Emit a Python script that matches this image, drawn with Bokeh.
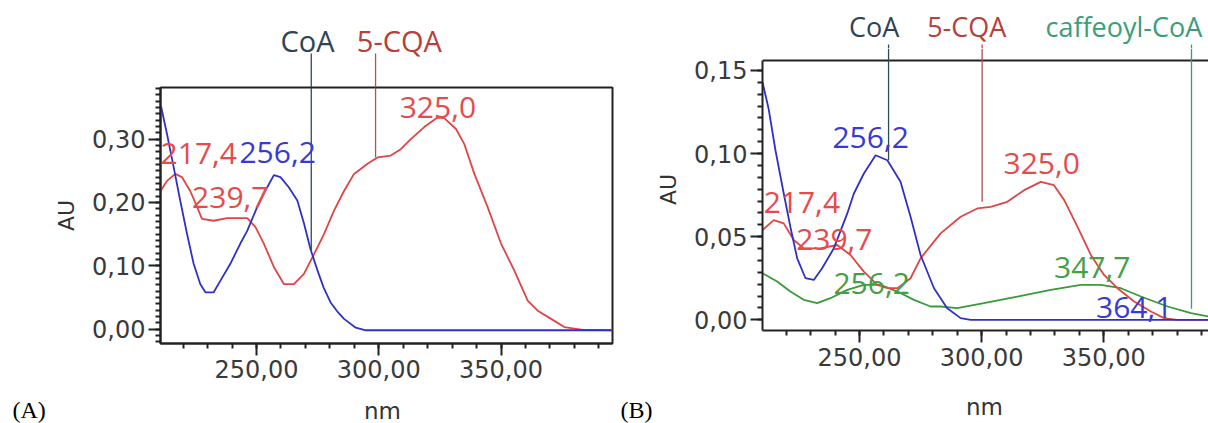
from bokeh.plotting import figure
from bokeh.models import (SingleIntervalTicker, CustomJSTickFormatter, ColumnDataSource, Range1d)
from bokeh.layouts import row, column
from bokeh.embed import file_html
from bokeh.resources import INLINE
from bokeh.core.properties import value

# ---------------- data ----------------
a_coa_nm = [211.0, 213.4, 216.1, 218.8, 221.6, 224.3, 227.0, 229.1, 232.5, 235.2, 239.3, 243.4,
            246.2, 250.3, 254.4, 257.1, 259.8, 263.2, 266.7, 269.4, 272.1, 274.9, 277.5, 280.3,
            283.0, 285.8, 290.6, 294.7, 395.6]
a_coa_au = [0.351, 0.308, 0.256, 0.203, 0.150, 0.103, 0.071, 0.058, 0.058, 0.076, 0.103, 0.135,
            0.155, 0.193, 0.224, 0.243, 0.240, 0.224, 0.203, 0.167, 0.126, 0.093, 0.065, 0.042,
            0.028, 0.016, 0.002, -0.002, -0.002]
a_cqa_nm = [210.8, 213.4, 216.8, 219.5, 222.9, 225.7, 227.7, 232.5, 238.0, 246.2, 249.6, 253.0,
            257.1, 261.2, 265.3, 269.4, 273.5, 277.6, 281.7, 285.8, 289.9, 295.4, 299.5, 304.9,
            309.0, 313.1, 318.6, 324.0, 326.8, 331.6, 335.0, 339.1, 344.5, 350.0, 355.5, 360.9,
            365.0, 370.5, 375.9, 382.8, 395.6]
a_cqa_au = [0.218, 0.234, 0.245, 0.240, 0.218, 0.193, 0.174, 0.171, 0.175, 0.175, 0.161, 0.135,
            0.098, 0.071, 0.071, 0.087, 0.118, 0.150, 0.187, 0.218, 0.245, 0.261, 0.271, 0.274,
            0.284, 0.300, 0.319, 0.334, 0.333, 0.316, 0.292, 0.245, 0.193, 0.135, 0.092, 0.045,
            0.029, 0.016, 0.003, -0.001, -0.002]

a_peak_nm = [217.4, 239.7, 256.2, 325.0]
a_peak_au = [0.245, 0.175, 0.243, 0.334]
a_peak_series = ["5-CQA", "5-CQA", "CoA", "5-CQA"]

a_marker_names = ["CoA", "5-CQA"]
a_marker_nm = [272.4, 298.7]
a_marker_au = [0.124, 0.271]

b_coa_nm = [210.3, 212.8, 215.6, 219.0, 221.7, 224.5, 227.9, 231.3, 234.7, 239.5, 245.0, 247.7,
            251.8, 256.6, 261.4, 266.8, 270.9, 275.0, 280.5, 285.9, 291.4, 295.5, 393.0]
b_coa_au = [0.143, 0.127, 0.102, 0.076, 0.056, 0.037, 0.025, 0.024, 0.031, 0.043, 0.064, 0.076,
            0.088, 0.099, 0.096, 0.083, 0.062, 0.039, 0.019, 0.007, 0.001, 0.0, 0.0]
b_cqa_nm = [210.3, 214.9, 219.0, 223.1, 227.2, 234.0, 240.9, 246.3, 251.8, 257.3, 261.4, 265.5,
            270.9, 275.0, 283.2, 291.4, 298.2, 303.7, 310.5, 317.4, 324.2, 329.6, 333.8, 339.2,
            344.7, 350.1, 355.6, 362.4, 369.3, 374.7, 380.0, 393.0]
b_cqa_au = [0.054, 0.060, 0.058, 0.048, 0.043, 0.043, 0.045, 0.039, 0.029, 0.021, 0.019, 0.019,
            0.025, 0.037, 0.052, 0.062, 0.067, 0.068, 0.071, 0.078, 0.083, 0.081, 0.072, 0.056,
            0.039, 0.027, 0.019, 0.011, 0.005, 0.001, 0.0, 0.0]
b_caf_nm = [210.3, 216.3, 221.7, 227.2, 232.7, 238.1, 245.0, 251.8, 258.6, 265.5, 272.3, 279.1,
            283.2, 290.0, 300.9, 314.6, 328.3, 340.6, 348.8, 357.0, 365.2, 376.1, 385.7, 393.0]
b_caf_au = [0.028, 0.023, 0.017, 0.012, 0.010, 0.013, 0.018, 0.021, 0.021, 0.017, 0.012, 0.008,
            0.008, 0.007, 0.010, 0.014, 0.018, 0.021, 0.021, 0.019, 0.014, 0.008, 0.004, 0.002]

b_peak_nm = [217.4, 239.7, 256.2, 256.2, 325.0, 347.7, 364.1]
b_peak_au = [0.060, 0.045, 0.099, 0.021, 0.083, 0.021, 0.0]
b_peak_series = ["5-CQA", "5-CQA", "CoA", "caffeoyl-CoA", "5-CQA", "caffeoyl-CoA", "CoA"]

b_marker_names = ["CoA", "5-CQA", "caffeoyl-CoA"]
b_marker_nm = [261.9, 300.2, 385.9]
b_marker_au = [0.096, 0.071, 0.0066]

# ---------------- layout & styles ----------------
LINE_COLORS = {"CoA": "#3030c8", "5-CQA": "#e04545", "caffeoyl-CoA": "#3a9a3a"}
PEAK_COLORS = {"CoA": "#3a3ad2", "5-CQA": "#e84a4a", "caffeoyl-CoA": "#45a045"}
TOP_COLORS = {"CoA": "#2e4456", "5-CQA": "#b8403a", "caffeoyl-CoA": "#3a9e78"}
MARK_COLORS = {"CoA": "#2e4a5a", "5-CQA": "#b05050", "caffeoyl-CoA": "#3a9a80"}
AXIS_COLOR = "#222222"
TICK_FONT = "DejaVu Sans"
ANN_FONT = "Open Sans"
LETTER_FONT = "Liberation Serif"
FMT = "return tick.toFixed(2).replace('.', ',');"
# vertical correction (in em) between the wanted glyph baseline and where it is drawn
BASE_FIX = {ANN_FONT: 0.355, TICK_FONT: 0.20, LETTER_FONT: 0.23}

PEAK_SIZE = 30
a_peak_dx = [22, -1, 6, -2]
a_peak_dy = [-10, -10, -12, 1]
b_peak_dx = [22, 0, -4, -3, -1, -6, -4]
b_peak_dy = [-7, 5, -7, 9, -8, -7, -2]
a_top_dx = [-30.7, -18.7]
b_top_dx = [-39.5, -55.0, -146.0]

# page-pixel geometry of each panel
cfg_a = dict(left=0, width=615, fl=160, fr=612, ft=87, fb=343, canvas_top=87,
             bottom_strip=388, page_h=423,
             x0=210.74, x1=395.6, y0=-0.0229, y1=0.3815, yint=0.1, yminor=10,
             x_standoff=4, top_size=29, line_top=53, text_base=50,
             letter="(A)", letter_px=(12, 415), nm_px=(382, 415))
cfg_b = dict(left=615, width=593, fl=762, fr=1208, ft=60, fb=330, canvas_top=48,
             bottom_strip=380, page_h=423,
             x0=210.3, x1=392.86, y0=-0.00644, y1=0.1560, yint=0.05, yminor=7,
             x_standoff=5, top_size=27, line_top=44, text_base=36,
             letter="(B)", letter_px=(620, 415), nm_px=(984, 411))


def fmt(v, d):
    return ("%.*f" % (d, v)).replace(".", ",")


def fix(font, size):
    return BASE_FIX[font] * size


def bare(width, height, xr, yr):
    f = figure(width=width, height=height, x_range=xr, y_range=yr, min_border=0,
               x_axis_type=None, y_axis_type=None, output_backend="svg",
               toolbar_location=None)
    f.frame_align = False
    f.outline_line_color = None
    f.xgrid.grid_line_color = None
    f.ygrid.grid_line_color = None
    return f


def build(cfg, series, peaks, markers):
    W = cfg["width"]
    k = (cfg["x1"] - cfg["x0"]) / (cfg["fr"] - cfg["fl"])
    ky = (cfg["y1"] - cfg["y0"]) / (cfg["fb"] - cfg["ft"])
    ext_x0 = cfg["x0"] - (cfg["fl"] - cfg["left"]) * k
    ext_x1 = cfg["x1"] + (cfg["left"] + W - cfg["fr"]) * k
    ct = cfg["canvas_top"]
    y_top = cfg["y1"] + (cfg["ft"] - ct) * ky     # data value at the top of the main canvas
    outline = ct == cfg["ft"]

    # ---- strip above the plot: compound names and their marker lines
    top = bare(W, ct, Range1d(ext_x0, ext_x1), Range1d(ct, 0))
    if outline:
        top.segment(x0=[cfg["x0"]], y0=[ct], x1=[cfg["x1"]], y1=[ct],
                    line_color=AXIS_COLOR, line_width=2)
    names, mk_nm, mk_au, top_dx = markers
    ts = cfg["top_size"]
    for n, x, d in zip(names, mk_nm, top_dx):
        top.segment(x0=[x], y0=[cfg["line_top"]], x1=[x], y1=[ct],
                    line_color=MARK_COLORS[n], line_width=1.3)
        top.text(x=[x], y=[cfg["text_base"] - fix(ANN_FONT, ts)], text=[n], x_offset=d,
                 text_font=value(ANN_FONT), text_font_size="%dpx" % ts,
                 text_color=TOP_COLORS[n], text_align="left", text_baseline="alphabetic")

    # ---- main plot
    bb = cfg["bottom_strip"] - cfg["fb"]
    p = figure(width=W, height=cfg["bottom_strip"] - ct,
               x_range=Range1d(cfg["x0"], cfg["x1"]), y_range=Range1d(cfg["y0"], y_top),
               min_border_left=cfg["fl"] - cfg["left"],
               min_border_right=cfg["left"] + W - cfg["fr"],
               min_border_top=0, min_border_bottom=bb,
               output_backend="svg", toolbar_location=None)
    p.frame_align = False
    p.xgrid.grid_line_color = None
    p.ygrid.grid_line_color = None
    if outline:
        p.outline_line_color = AXIS_COLOR
        p.outline_line_width = 2
    else:
        p.outline_line_color = None
        p.segment(x0=[cfg["x0"]], y0=[cfg["y1"]], x1=[cfg["x1"]], y1=[cfg["y1"]],
                  line_color=AXIS_COLOR, line_width=2)

    xa = p.xaxis[0]
    xa.ticker = SingleIntervalTicker(interval=50, num_minor_ticks=5)
    xa.formatter = CustomJSTickFormatter(code=FMT)
    ya = p.yaxis[0]
    ya.ticker = SingleIntervalTicker(interval=cfg["yint"], num_minor_ticks=cfg["yminor"])
    ya.formatter = CustomJSTickFormatter(code=FMT)
    ya.bounds = (cfg["y0"], cfg["y1"])
    for ax in (xa, ya):
        ax.axis_line_color = AXIS_COLOR
        ax.axis_line_width = 2
        ax.major_tick_line_color = AXIS_COLOR
        ax.major_tick_line_width = 2
        ax.minor_tick_line_color = AXIS_COLOR
        ax.minor_tick_line_width = 2
        ax.major_tick_in = 0
        ax.minor_tick_in = 0
        ax.major_tick_out = 12
        ax.minor_tick_out = 5
        ax.major_label_text_font = TICK_FONT
        ax.major_label_text_font_size = "24px"
        ax.major_label_text_color = "#3a3a3a"
    xa.major_label_standoff = cfg["x_standoff"]
    ya.major_label_standoff = 3
    ya.axis_label = "AU"
    ya.axis_label_text_font = TICK_FONT
    ya.axis_label_text_font_size = "22px"
    ya.axis_label_text_font_style = "normal"
    ya.axis_label_text_color = "#333333"
    ya.axis_label_standoff = 10

    for name, xs, ys in series:
        p.line(xs, ys, line_color=LINE_COLORS[name], line_width=1.8)

    for n, x, v in zip(names, mk_nm, mk_au):
        p.segment(x0=[x], y0=[y_top], x1=[x], y1=[v], line_color=MARK_COLORS[n],
                  line_width=1.3)

    pk_nm, pk_au, pk_ser, dx, dy = peaks
    shift = fix(ANN_FONT, PEAK_SIZE)
    src = ColumnDataSource(dict(x=pk_nm, y=pk_au, text=[fmt(v, 1) for v in pk_nm],
                                color=[PEAK_COLORS[s] for s in pk_ser], xo=dx,
                                yo=[d - shift for d in dy]))
    p.text(x="x", y="y", text="text", source=src, text_color="color", x_offset="xo",
           y_offset="yo", text_font=value(ANN_FONT), text_font_size="%dpx" % PEAK_SIZE,
           text_align="center", text_baseline="alphabetic")

    # ---- strip below: axis title and panel letter
    bh = cfg["page_h"] - cfg["bottom_strip"]
    bot = bare(W, bh, Range1d(cfg["left"], cfg["left"] + W),
               Range1d(cfg["page_h"], cfg["bottom_strip"]))
    bot.text(x=[cfg["nm_px"][0]], y=[cfg["nm_px"][1] - fix(TICK_FONT, 23)], text=["nm"],
             text_font=value(TICK_FONT), text_font_size="23px", text_color="#333333",
             text_align="center", text_baseline="alphabetic")
    bot.text(x=[cfg["letter_px"][0]], y=[cfg["letter_px"][1] - fix(LETTER_FONT, 24)],
             text=[cfg["letter"]], text_font=value(LETTER_FONT), text_font_size="24px",
             text_color="#000000", text_align="left", text_baseline="alphabetic")

    return column(top, p, bot, spacing=0)


col_a = build(cfg_a,
              [("5-CQA", a_cqa_nm, a_cqa_au), ("CoA", a_coa_nm, a_coa_au)],
              (a_peak_nm, a_peak_au, a_peak_series, a_peak_dx, a_peak_dy),
              (a_marker_names, a_marker_nm, a_marker_au, a_top_dx))
col_b = build(cfg_b,
              [("caffeoyl-CoA", b_caf_nm, b_caf_au), ("5-CQA", b_cqa_nm, b_cqa_au),
               ("CoA", b_coa_nm, b_coa_au)],
              (b_peak_nm, b_peak_au, b_peak_series, b_peak_dx, b_peak_dy),
              (b_marker_names, b_marker_nm, b_marker_au, b_top_dx))

layout = row(col_a, col_b, spacing=0)
open("out.html", "w").write(file_html(layout, INLINE))
